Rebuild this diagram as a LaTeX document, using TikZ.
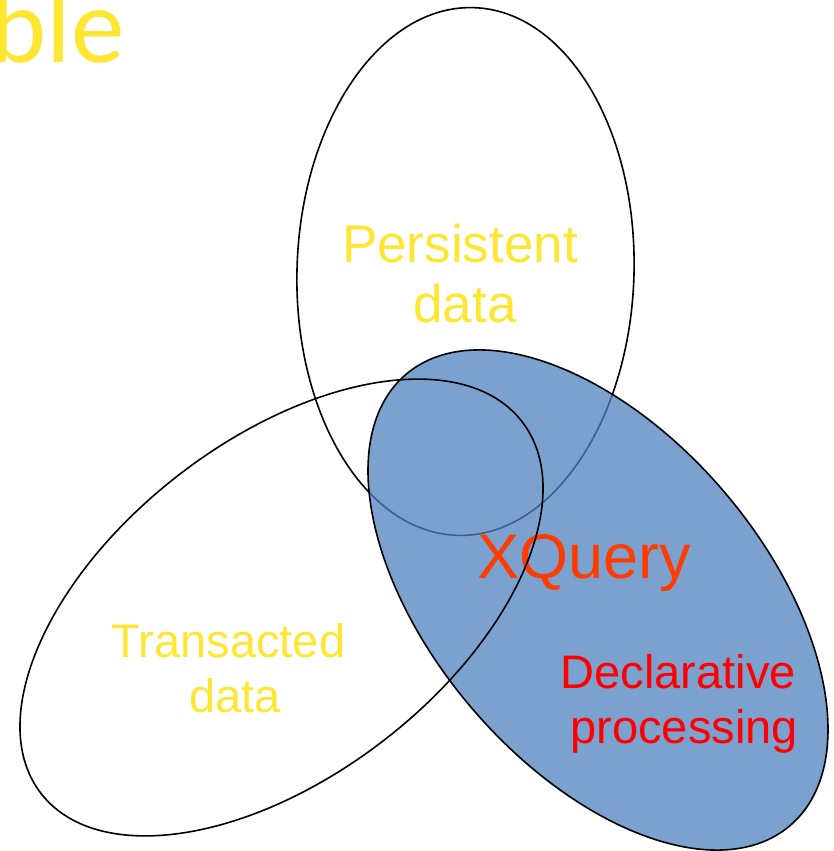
\documentclass[tikz,border=0pt]{standalone}
\usepackage{fontspec}
\setmainfont{Liberation Sans}
\newfontfamily\titlefont{Carlito}
\definecolor{labelyellow}{RGB}{255,230,50}
\definecolor{setblue}{RGB}{79,129,189}
\definecolor{xqorange}{RGB}{255,60,0}
\definecolor{declred}{RGB}{255,0,0}
\begin{document}
\begin{tikzpicture}[x=1pt,y=-1pt,
  setline/.style={draw=black,line width=1.6pt},
  setlabel/.style={inner sep=0pt,outer sep=0pt,anchor=base,text=labelyellow},
  fs/.style={font=\fontsize{#1}{#1}\selectfont}]
\useasboundingbox (0,0) rectangle (833,851);

% title fragment at the top edge
\node[inner sep=0pt,anchor=base east,text=labelyellow,
      font=\titlefont\fontsize{107}{107}\selectfont] (title) at (125,63) {ble};

% persistent data set
\draw[setline, rotate around={-1.8:(465.5,271.5)}]
  (465.5,271.5) ellipse [x radius=168.5, y radius=264];

% XQuery set, translucent fill over the persistent outline
\fill[setblue, fill opacity=0.75, rotate around={-49.6:(598,600)}]
  (598,600) ellipse [x radius=296.3, y radius=166.2];
\draw[setline, rotate around={-49.6:(598,600)}]
  (598,600) ellipse [x radius=296.3, y radius=166.2];

% labels
\node[setlabel, fs=53] (pers1) at (460,262) {Persistent};
\node[setlabel, fs=53] (pers2) at (465,322) {data};
\node[setlabel, fs=47] (trans1) at (228.5,657) {Transacted};
\node[setlabel, fs=47] (trans2) at (235,712) {data};
\node[inner sep=0pt, anchor=base west, text=xqorange, fs=63] (xq) at (477,578) {XQuery};
\node[inner sep=0pt, anchor=base east, text=declred, fs=47] (decl1) at (796,688) {Declarative};
\node[inner sep=0pt, anchor=base east, text=declred, fs=47] (decl2) at (798,743) {processing};

% transacted data set, outline on top
\draw[setline, rotate around={37.7:(281.5,607.5)}]
  (281.5,607.5) ellipse [x radius=304, y radius=167.7];
\end{tikzpicture}
\end{document}
